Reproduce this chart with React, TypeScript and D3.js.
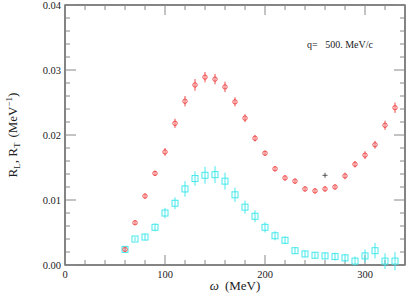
import React from "react";
import { scaleLinear, range } from "d3";

// omega grid (MeV)
const omega = range(60, 331, 10);

// longitudinal response (red)
const rL = [
  0.0024, 0.0065, 0.0106, 0.0141, 0.0174, 0.0218, 0.0252, 0.0277, 0.0289, 0.0286,
  0.0274, 0.0251, 0.0226, 0.0195, 0.0172, 0.0148, 0.0134, 0.0129, 0.0117, 0.0114,
  0.0117, 0.012, 0.0137, 0.0155, 0.0169, 0.0185, 0.0215, 0.0242,
];
const rLErr = [
  0.0002, 0.0003, 0.0004, 0.0004, 0.0006, 0.0007, 0.0008, 0.0009, 0.0008, 0.0008,
  0.0008, 0.0007, 0.0006, 0.0005, 0.0004, 0.0004, 0.0004, 0.0004, 0.0004, 0.0004,
  0.0004, 0.0004, 0.0005, 0.0005, 0.0006, 0.0006, 0.0007, 0.0008,
];

// transverse response (cyan)
const rT = [
  0.0024, 0.004, 0.0043, 0.0058, 0.008, 0.0095, 0.0117, 0.0133, 0.0138, 0.0139,
  0.0129, 0.0108, 0.0089, 0.0075, 0.0058, 0.0045, 0.0038, 0.0022, 0.0017, 0.0015,
  0.0014, 0.0013, 0.0011, 0.0006, 0.0014, 0.0022, 0.0006, 0.0006,
];
const rTErr = [
  0.0002, 0.0003, 0.0005, 0.0006, 0.0008, 0.0009, 0.0012, 0.0011, 0.0013, 0.0013,
  0.0013, 0.0011, 0.001, 0.0009, 0.0008, 0.0007, 0.0006, 0.0005, 0.0005, 0.0005,
  0.0005, 0.0006, 0.0006, 0.0007, 0.001, 0.0012, 0.0012, 0.0014,
];

// single extra point
const extra = [{ w: 260, v: 0.0138 }];

const xMajor = [0, 100, 200, 300];
const yMajor = [0, 0.01, 0.02, 0.03, 0.04];
const yLabels = ["0.00", "0.01", "0.02", "0.03", "0.04"];

const width = 409;
const height = 300;
const margin = { left: 65, right: 4, top: 5, bottom: 35 };

const red = "#f04848";
const cyan = "#44e8ec";
const axisCol = "#333";
const font = "'Liberation Serif', 'DejaVu Serif', serif";

export default function App() {
  const x = scaleLinear().domain([0, 340]).range([margin.left, width - margin.right]);
  const y = scaleLinear().domain([0, 0.04]).range([height - margin.bottom, margin.top]);

  const x0 = x.range()[0];
  const x1 = x.range()[1];
  const y0 = y.range()[0];
  const y1 = y.range()[1];

  const xMinor = range(0, 341, 20).filter((d) => d % 100 !== 0);
  const yMinor = range(0, 41, 2).map((d) => d / 1000).filter((d, i) => i % 5 !== 0);

  const ticks = [];
  xMajor.forEach((d) => {
    ticks.push(<line key={"xb" + d} x1={x(d)} x2={x(d)} y1={y0} y2={y0 - 10} />);
    ticks.push(<line key={"xt" + d} x1={x(d)} x2={x(d)} y1={y1} y2={y1 + 10} />);
  });
  xMinor.forEach((d) => {
    ticks.push(<line key={"xbm" + d} x1={x(d)} x2={x(d)} y1={y0} y2={y0 - 5} />);
    ticks.push(<line key={"xtm" + d} x1={x(d)} x2={x(d)} y1={y1} y2={y1 + 5} />);
  });
  yMajor.forEach((d) => {
    ticks.push(<line key={"yl" + d} x1={x0} x2={x0 + 11} y1={y(d)} y2={y(d)} />);
    ticks.push(<line key={"yr" + d} x1={x1} x2={x1 - 11} y1={y(d)} y2={y(d)} />);
  });
  yMinor.forEach((d) => {
    ticks.push(<line key={"ylm" + d} x1={x0} x2={x0 + 5} y1={y(d)} y2={y(d)} />);
    ticks.push(<line key={"yrm" + d} x1={x1} x2={x1 - 5} y1={y(d)} y2={y(d)} />);
  });

  const cyanMarks = omega.map((w, i) => (
    <g key={"t" + w} stroke={cyan} fill="none" strokeWidth={1}>
      <line x1={x(w)} x2={x(w)} y1={y(rT[i] - rTErr[i])} y2={y(rT[i] + rTErr[i])} />
      <rect x={x(w) - 3} y={y(rT[i]) - 3} width={6} height={6} />
    </g>
  ));

  const redMarks = omega.map((w, i) => (
    <g key={"l" + w} stroke={red} fill="none" strokeWidth={1}>
      <line x1={x(w)} x2={x(w)} y1={y(rL[i] - rLErr[i])} y2={y(rL[i] + rLErr[i])} />
      <circle cx={x(w)} cy={y(rL[i])} r={2.2} />
    </g>
  ));

  const plus = extra.map((p) => (
    <g key={"p" + p.w} stroke="#444" strokeWidth={0.9}>
      <line x1={x(p.w) - 2.5} x2={x(p.w) + 2.5} y1={y(p.v)} y2={y(p.v)} />
      <line x1={x(p.w)} x2={x(p.w)} y1={y(p.v) - 2.5} y2={y(p.v) + 2.5} />
    </g>
  ));

  return (
    <svg
      width={width}
      height={height}
      viewBox={`0 0 ${width} ${height}`}
      style={{ position: "absolute", left: 0, top: 0, background: "#fff" }}
      fontFamily={font}
    >
      <rect x={x0} y={y1} width={x1 - x0} height={y0 - y1} fill="none" stroke={axisCol} strokeWidth={1.2} />
      <g stroke="#888" strokeWidth={1}>{ticks}</g>

      {cyanMarks}
      {redMarks}
      {plus}

      {xMajor.map((d) => (
        <text key={"xl" + d} x={x(d)} y={y0 + 13} textAnchor="middle" fontSize={10.5} fill="#222">
          {d}
        </text>
      ))}
      {yMajor.map((d, i) => (
        <text key={"yl" + d} x={x0 - 4} y={y(d) + 3.5} textAnchor="end" fontSize={10.5} fill="#222">
          {yLabels[i]}
        </text>
      ))}

      <text x={(x0 + x1) / 2} y={height - 10} textAnchor="middle" fontSize={13} fill="#222">
        <tspan fontStyle="italic">ω</tspan>
        <tspan dx={6}>(MeV)</tspan>
      </text>

      <text
        transform={`translate(17, ${(y0 + y1) / 2}) rotate(-90)`}
        textAnchor="middle"
        fontSize={13}
        fill="#222"
      >
        R<tspan fontSize={9} dy={3}>L</tspan>
        <tspan dy={-3}>, R</tspan>
        <tspan fontSize={9} dy={3}>T</tspan>
        <tspan dy={-3} dx={5}>(MeV</tspan>
        <tspan fontSize={9} dy={-5}>−1</tspan>
        <tspan dy={5}>)</tspan>
      </text>

      <text x={307} y={48} fontSize={10} fill="#222" style={{ whiteSpace: "pre" }}>
        {"q=   500. MeV/c"}
      </text>
    </svg>
  );
}
